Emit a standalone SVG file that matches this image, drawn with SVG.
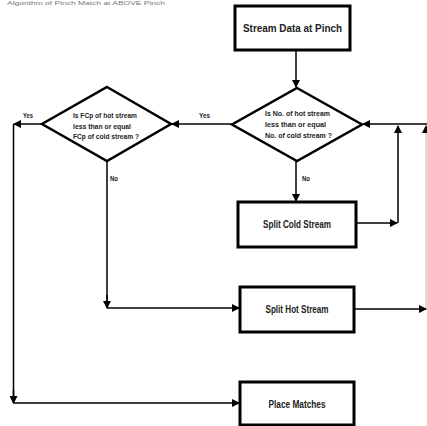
<svg xmlns="http://www.w3.org/2000/svg" width="427" height="426" viewBox="0 0 427 426">
<defs>
<style>
.box{fill:#fff;stroke:#000;stroke-width:3}
.dia{fill:#fff;stroke:#000;stroke-width:2.5}
.t{font-family:"Liberation Sans",Arial,sans-serif;font-weight:bold;fill:#222;font-size:11px;text-anchor:middle}
.s{font-family:"Liberation Sans",Arial,sans-serif;font-weight:bold;fill:#222;font-size:8px}
.c{fill:none;stroke:#000;stroke-width:1.5}
</style>
<marker id="ah" markerWidth="8" markerHeight="8" refX="7" refY="4" orient="auto" markerUnits="userSpaceOnUse">
<path d="M0,0 L8,4 L0,8 Z" fill="#000"/>
</marker>
</defs>
<rect width="427" height="426" fill="#fff"/>
<text x="7" y="4.5" font-family="Liberation Sans,Arial,sans-serif" font-size="5" fill="#777" textLength="158" lengthAdjust="spacingAndGlyphs">Algorithm of Pinch Match at ABOVE Pinch</text>

<g id="connectors">
<line class="c" x1="296" y1="51" x2="296" y2="87" marker-end="url(#ah)"/>
<line class="c" x1="296" y1="161" x2="296" y2="201" marker-end="url(#ah)"/>
<polyline class="c" points="357,223 397,223" marker-end="url(#ah)"/>
<line class="c" x1="398" y1="223" x2="398" y2="126" marker-end="url(#ah)"/>
<line class="c" x1="427" y1="124" x2="363" y2="124" marker-end="url(#ah)"/>
<line x1="426" y1="309" x2="426" y2="126" stroke="#bbb" stroke-width="1" marker-end="url(#ah)"/>
<line class="c" x1="232" y1="124" x2="172" y2="124" marker-end="url(#ah)"/>
<line class="c" x1="42" y1="124" x2="14" y2="124" marker-end="url(#ah)"/>
<polyline class="c" points="13.5,124 13.5,403" />
<line class="c" x1="13.5" y1="390" x2="13.5" y2="403" marker-end="url(#ah)"/>
<polyline class="c" points="13.5,403 239,403" marker-end="url(#ah)"/>
<polyline class="c" points="107,161 107,308" />
<line class="c" x1="107" y1="295" x2="107" y2="308" marker-end="url(#ah)"/>
<polyline class="c" points="107,308 239,308" marker-end="url(#ah)"/>
<line class="c" x1="355" y1="309" x2="426" y2="309" marker-end="url(#ah)"/>
<text class="s" x="199" y="118" textLength="11" lengthAdjust="spacingAndGlyphs">Yes</text>
<text class="s" x="23" y="118" textLength="10" lengthAdjust="spacingAndGlyphs">Yes</text>
<text class="s" x="302" y="181" textLength="8" lengthAdjust="spacingAndGlyphs">No</text>
<text class="s" x="110" y="181" textLength="8" lengthAdjust="spacingAndGlyphs">No</text>
</g>

<g id="n1">
<rect class="box" x="235" y="6" width="115" height="44"/>
<text class="t" x="292.5" y="32" textLength="99" lengthAdjust="spacingAndGlyphs">Stream Data at Pinch</text>
</g>

<g id="n2">
<polygon class="dia" points="297,88 362,124.5 297,161 232,124.5"/>
<text class="s" x="265" y="116" textLength="65" lengthAdjust="spacingAndGlyphs">Is No. of hot stream</text>
<text class="s" x="265" y="127" textLength="61" lengthAdjust="spacingAndGlyphs">less than or equal</text>
<text class="s" x="265" y="138" textLength="67" lengthAdjust="spacingAndGlyphs">No. of cold stream   ?</text>
</g>

<g id="n3">
<polygon class="dia" points="107,87 171,124 107,161 42,124"/>
<text class="s" x="73" y="118" textLength="64" lengthAdjust="spacingAndGlyphs">Is FCp of hot stream</text>
<text class="s" x="73" y="129" textLength="58" lengthAdjust="spacingAndGlyphs">less than  or equal</text>
<text class="s" x="73" y="139" textLength="66" lengthAdjust="spacingAndGlyphs">FCp of cold stream ?</text>
</g>

<g id="n4">
<rect class="box" x="238" y="202" width="118" height="45"/>
<text class="t" x="297" y="228" textLength="68" lengthAdjust="spacingAndGlyphs" style="font-size:10px">Split Cold Stream</text>
</g>

<g id="n5">
<rect class="box" x="240" y="287" width="114" height="45"/>
<text class="t" x="297" y="313" textLength="63" lengthAdjust="spacingAndGlyphs" style="font-size:10px">Split Hot Stream</text>
</g>

<g id="n6">
<rect class="box" x="240" y="382" width="114" height="43"/>
<text class="t" x="297" y="408" textLength="57" lengthAdjust="spacingAndGlyphs" style="font-size:10px">Place Matches</text>
</g>
</svg>
